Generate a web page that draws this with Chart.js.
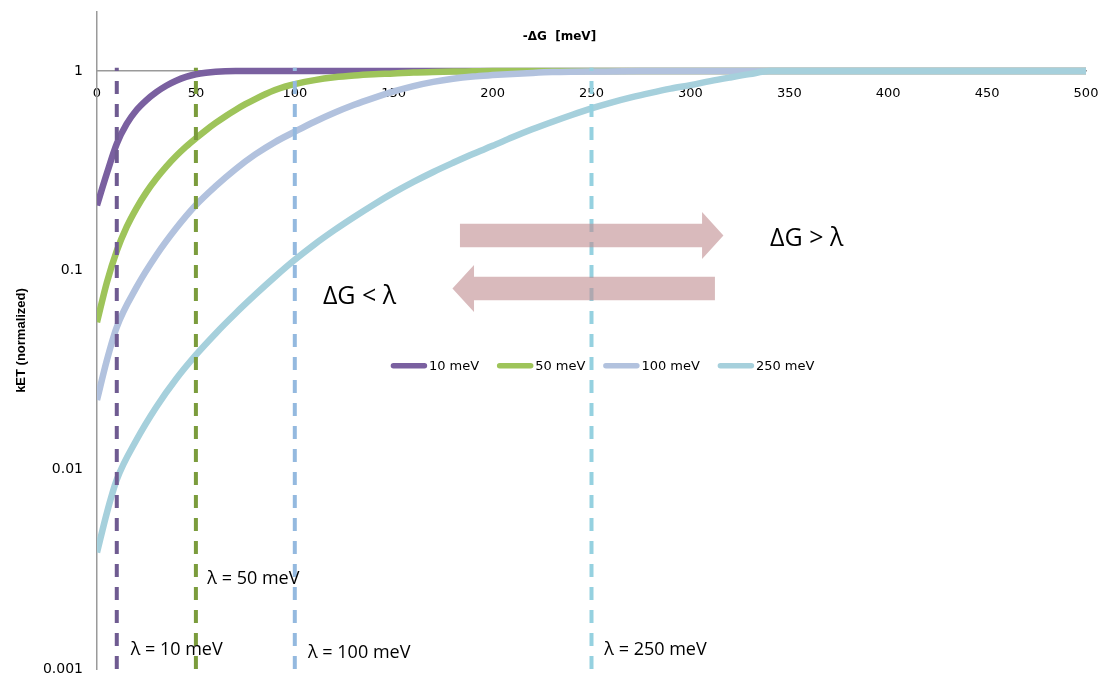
<!DOCTYPE html>
<html>
<head>
<meta charset="utf-8">
<script src="https://cdn.jsdelivr.net/npm/chart.js@4.4.0/dist/chart.umd.min.js"></script>
<style>
  html, body { margin: 0; padding: 0; background: #ffffff; }
  #wrap { width: 1103px; height: 677px; position: relative; }
</style>
</head>
<body>
<div id="wrap"><canvas id="chart"></canvas></div>
<script>
// Normalized electron-transfer rate vs driving force for four reorganization energies
const seriesNames = ['10 meV', '50 meV', '100 meV', '250 meV'];
const lambdas = [10, 50, 100, 250];
const lambdaLabels = ['λ = 10 meV', 'λ = 50 meV', 'λ = 100 meV', 'λ = 250 meV'];

const dG10 = [0, 5, 10, 15, 20, 25, 30, 35, 40, 45, 50, 55, 60, 70, 500];
const k10  = [0.212, 0.307, 0.432, 0.543, 0.638, 0.716, 0.785, 0.845, 0.895, 0.935, 0.964, 0.982, 0.993, 1, 1];

const dG50 = [0, 5, 10, 15, 20, 25, 30, 35, 40, 45, 50, 55, 60, 65, 70, 75, 80, 85, 90, 95, 100,
              110, 120, 130, 140, 150, 160, 170, 180, 190, 200, 500];
const k50  = [0.055, 0.0871, 0.1253, 0.1652, 0.2056, 0.2472, 0.2891, 0.3319, 0.375, 0.4178, 0.4603,
              0.5047, 0.5495, 0.5943, 0.6383, 0.6823, 0.7244, 0.7656, 0.8035, 0.8356, 0.861,
              0.9016, 0.9311, 0.9506, 0.9638, 0.9727, 0.984, 0.9908, 0.9954, 0.9977, 1, 1];

const dG100 = [0, 5, 10, 20, 30, 40, 50, 60, 70, 80, 90, 100, 110, 120, 130, 140, 150,
               160, 170, 180, 190, 200, 210, 220, 230, 240, 250, 275, 500];
const k100  = [0.0224, 0.0355, 0.052, 0.0824, 0.1191, 0.1626, 0.2128, 0.2649, 0.3221, 0.3819,
               0.4406, 0.4966, 0.5572, 0.618, 0.6776, 0.7345, 0.7907, 0.8414, 0.8831, 0.9162,
               0.9397, 0.955, 0.9683, 0.9795, 0.9886, 0.9931, 0.9954, 1, 1];

const dG250 = [0, 5, 10, 20, 30, 40, 50, 60, 70, 80, 90, 100, 110, 120, 130, 140, 150, 160, 170,
               180, 190, 200, 210, 220, 230, 240, 250, 260, 270, 280, 290, 300, 310, 320, 330, 340, 500];
const k250  = [0.00384, 0.00608, 0.00891, 0.01413, 0.02065, 0.02851, 0.03767, 0.04831, 0.06081,
               0.07551, 0.0929, 0.113, 0.1352, 0.1592, 0.1854, 0.2143, 0.2455, 0.278, 0.3119,
               0.3467, 0.3837, 0.4217, 0.4656, 0.5105, 0.5559, 0.6026, 0.6501, 0.695, 0.7379,
               0.778, 0.8166, 0.8511, 0.8913, 0.929, 0.9661, 1, 1];

const xTicks = [0, 50, 100, 150, 200, 250, 300, 350, 400, 450, 500];
const yTicks = [0.001, 0.01, 0.1, 1];
const yTickLabels = ['0.001', '0.01', '0.1', '1'];

const xTitle = '-ΔG  [meV]';
const yTitle = 'kET (normalized)';

const curveColors = ['#7a60a0', '#9ec45a', '#b2c2de', '#a6d0dc'];
const markerColors = ['#6f5b91', '#7b9c3c', '#94b9df', '#95d1e0'];

const yMin = 0.001, yMax = 1.98, markerTop = 1.04;

// Annotation anchors in data units (driving force, rate)
const arrowRight = { tail: 183.5, base: 305.9, tip: 316.7, k: 0.1498 };
const arrowLeft  = { tail: 312.4, base: 190.6, tip: 179.7, k: 0.0812 };
const regimeText = [
  { text: 'ΔG > λ', x: 340.3, k: 0.1327 },
  { text: 'ΔG < λ', x: 114.2, k: 0.068 }
];
const lambdaTextPos = [
  { x: 17.0, k: 0.00117 },
  { x: 55.8, k: 0.00268 },
  { x: 106.7, k: 0.00114 },
  { x: 256.5, k: 0.00117 }
];
const legendAnchor = { x: 148.6, k: 0.0332 };
const xTitleAnchor = { x: 233.8, k: 1.48 };

const curves = [[dG10, k10], [dG50, k50], [dG100, k100], [dG250, k250]];

const datasets = curves.map((c, i) => ({
  label: seriesNames[i],
  data: c[0].map((v, j) => ({ x: v, y: c[1][j] })),
  borderColor: curveColors[i],
  borderWidth: 6.5,
  pointRadius: 0,
  fill: false,
  cubicInterpolationMode: 'monotone',
  order: 5 - i
})).concat(lambdas.map((l, i) => ({
  label: lambdaLabels[i],
  data: [{ x: l, y: yMin }, { x: l, y: markerTop }],
  borderColor: markerColors[i],
  borderWidth: 4,
  borderDash: [13, 10],
  pointRadius: 0,
  fill: false,
  order: 0
})));

function drawArrow(ctx, x0, xb, xt, yc, hb, hh) {
  ctx.beginPath();
  ctx.moveTo(x0, yc - hb);
  ctx.lineTo(xb, yc - hb);
  ctx.lineTo(xb, yc - hh);
  ctx.lineTo(xt, yc);
  ctx.lineTo(xb, yc + hh);
  ctx.lineTo(xb, yc + hb);
  ctx.lineTo(x0, yc + hb);
  ctx.closePath();
  ctx.fill();
}

const annotations = {
  id: 'annotations',
  afterDatasetsDraw(chart) {
    const ctx = chart.ctx;
    const xs = chart.scales.x, ys = chart.scales.y;
    ctx.save();

    // regime arrows
    ctx.fillStyle = 'rgba(192,140,144,0.6)';
    [arrowRight, arrowLeft].forEach(a => {
      drawArrow(ctx, xs.getPixelForValue(a.tail), xs.getPixelForValue(a.base),
        xs.getPixelForValue(a.tip), ys.getPixelForValue(a.k), 11.7, 23.5);
    });

    // regime labels
    ctx.fillStyle = '#000';
    ctx.textBaseline = 'alphabetic';
    ctx.textAlign = 'left';
    ctx.font = '25px "Open Sans"';
    regimeText.forEach(t => ctx.fillText(t.text, xs.getPixelForValue(t.x), ys.getPixelForValue(t.k)));

    // reorganization energy labels
    ctx.font = '18px "Open Sans"';
    lambdaLabels.forEach((s, i) => {
      const p = lambdaTextPos[i];
      ctx.fillText(s, xs.getPixelForValue(p.x), ys.getPixelForValue(p.k));
    });

    // axis title above the plot
    ctx.font = 'bold 12px "DejaVu Sans"';
    ctx.textAlign = 'center';
    ctx.textBaseline = 'middle';
    ctx.fillText(xTitle, xs.getPixelForValue(xTitleAnchor.x), ys.getPixelForValue(xTitleAnchor.k));

    // legend
    ctx.font = '13px "DejaVu Sans"';
    ctx.textAlign = 'left';
    let lx = xs.getPixelForValue(legendAnchor.x);
    const ly = ys.getPixelForValue(legendAnchor.k);
    seriesNames.forEach((name, i) => {
      ctx.strokeStyle = curveColors[i];
      ctx.lineWidth = 5.5;
      ctx.lineCap = 'round';
      ctx.beginPath();
      ctx.moveTo(lx + 2.5, ly);
      ctx.lineTo(lx + 33.5, ly);
      ctx.stroke();
      ctx.fillStyle = '#000';
      ctx.fillText(name, lx + 38, ly + 1);
      lx += 38 + ctx.measureText(name).width + 18;
    });
    ctx.restore();
  }
};

new Chart(document.getElementById('chart'), {
  type: 'line',
  data: { datasets },
  options: {
    responsive: true,
    maintainAspectRatio: false,
    animation: false,
    layout: { padding: { top: 12, right: 17, bottom: 8, left: 0 } },
    plugins: { legend: { display: false }, tooltip: { enabled: false } },
    scales: {
      x: {
        type: 'linear',
        min: 0,
        max: 500,
        position: { y: 1 },
        border: { display: true, color: '#9a9a9a', width: 1.5 },
        grid: { display: false, drawTicks: false },
        ticks: {
          padding: 15,
          color: '#000',
          font: { family: 'DejaVu Sans', size: 13 },
          maxRotation: 0,
          callback: (v) => String(v)
        },
        afterBuildTicks: (s) => { s.ticks = xTicks.map(v => ({ value: v })); },
        afterFit: (s) => { s.paddingLeft = 0; s.paddingRight = 0; }
      },
      y: {
        type: 'logarithmic',
        min: yMin,
        max: yMax,
        position: 'left',
        border: { display: true, color: '#9a9a9a', width: 1.5 },
        grid: { display: false, drawTicks: false },
        ticks: {
          padding: 14,
          color: '#000',
          font: { family: 'DejaVu Sans', size: 14 },
          callback: (v) => { const i = yTicks.indexOf(v); return i >= 0 ? yTickLabels[i] : ''; }
        },
        afterBuildTicks: (s) => { s.ticks = yTicks.map(v => ({ value: v })); },
        afterFit: (s) => { s.width = 97; s.paddingTop = 0; s.paddingBottom = 0; },
        title: {
          display: true,
          text: yTitle,
          color: '#000',
          font: { family: 'Liberation Sans', size: 13, weight: 'bold' },
          padding: { top: 14, bottom: 0 }
        }
      }
    }
  },
  plugins: [annotations]
});
</script>
</body>
</html>
